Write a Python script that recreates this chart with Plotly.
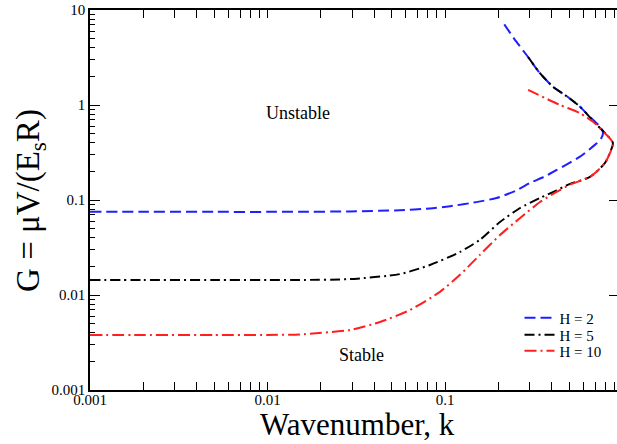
import plotly.graph_objects as go

# Neutral-stability curves G(k) for three layer thicknesses H
k_h2 = [0.001, 0.002, 0.005, 0.01, 0.0152, 0.0292, 0.0557, 0.0823, 0.107, 0.15,
        0.195, 0.25, 0.301, 0.36, 0.426, 0.5, 0.576, 0.65, 0.716, 0.76, 0.777,
        0.76, 0.716, 0.65, 0.576, 0.49, 0.405, 0.34, 0.288, 0.245, 0.211]
g_h2 = [0.075, 0.075, 0.075, 0.075, 0.0752, 0.0758, 0.078, 0.0815, 0.086, 0.095,
        0.105, 0.125, 0.151, 0.175, 0.207, 0.245, 0.286, 0.34, 0.395, 0.45, 0.51,
        0.57, 0.64, 0.76, 0.96, 1.22, 1.56, 2.2, 3.36, 5.0, 7.5]

k_h5 = [0.001, 0.002, 0.005, 0.01, 0.0152, 0.0292, 0.0557, 0.0823, 0.1215, 0.157,
        0.204, 0.265, 0.343, 0.42, 0.506, 0.656, 0.796, 0.883,
        0.82, 0.716, 0.576, 0.49, 0.405, 0.34, 0.294]
g_h5 = [0.0144, 0.0144, 0.0144, 0.0144, 0.0144, 0.0147, 0.0166, 0.0207, 0.0284, 0.038,
        0.0587, 0.0824, 0.105, 0.125, 0.148, 0.175, 0.245, 0.398,
        0.48, 0.62, 0.96, 1.22, 1.56, 2.2, 3.2]

k_h10 = [0.001, 0.002, 0.005, 0.01, 0.0152, 0.0292, 0.043, 0.0635, 0.0937, 0.1215,
         0.157, 0.204, 0.265, 0.343, 0.42, 0.506, 0.656, 0.796, 0.885,
         0.80, 0.716, 0.576, 0.445, 0.294]
g_h10 = [0.0038, 0.0038, 0.0038, 0.0038, 0.00385, 0.00428, 0.0052, 0.00695, 0.0108, 0.0163,
         0.0264, 0.0428, 0.0647, 0.0953, 0.12, 0.145, 0.175, 0.245, 0.396,
         0.5, 0.62, 0.82, 1.0, 1.44]

series_names = ["H = 2", "H = 5", "H = 10"]
series_colors = ["#1f1fff", "#000000", "#ff1f1f"]
series_dash = ["11px,5px", "10px,4px,2px,4px", "12px,4px,2px,4px"]
legend_ids = ["legend", "legend2", "legend3"]
legend_y = [0.1895, 0.1447, 0.1026]

x_ticks = [0.001, 0.01, 0.1]
x_ticktext = ["0.001", "0.01", "0.1"]
y_ticks = [0.001, 0.01, 0.1, 1, 10]
y_ticktext = ["0.001", "0.01", "0.1", "1", "10"]

SERIF = "Liberation Serif"

fig = go.Figure()
for kk, gg, name, col, dash, lg in zip([k_h2, k_h5, k_h10], [g_h2, g_h5, g_h10],
                                       series_names, series_colors, series_dash, legend_ids):
    fig.add_trace(go.Scatter(
        x=kk, y=gg, mode="lines", name=name, legend=lg,
        line=dict(color=col, width=2, dash=dash, shape="spline", smoothing=0.6),
    ))

# invisible trace carrying the mirrored ticks on the right-hand edge
fig.add_trace(go.Scatter(x=[0.001], y=[0.001], yaxis="y2", mode="markers",
                         marker=dict(opacity=0), showlegend=False, hoverinfo="skip"))

legend_style = dict(x=0.815, xanchor="left", yanchor="middle",
                    bgcolor="rgba(0,0,0,0)", font=dict(family=SERIF, size=15),
                    itemwidth=30)

fig.update_layout(
    width=617, height=444,
    margin=dict(l=90, r=0, t=10, b=54),
    paper_bgcolor="white", plot_bgcolor="white",
    font=dict(family=SERIF, color="black", size=15),
    showlegend=True,
    legend=dict(y=legend_y[0], **legend_style),
    legend2=dict(y=legend_y[1], **legend_style),
    legend3=dict(y=legend_y[2], **legend_style),
    xaxis=dict(
        type="log", range=[-3, -0.031],
        tickvals=x_ticks, ticktext=x_ticktext,
        ticks="inside", ticklen=8, tickwidth=1.2, tickcolor="black",
        showline=True, linecolor="black", linewidth=1.5, mirror="allticks",
        showgrid=False, zeroline=False, ticklabelstandoff=-5,
        tickfont=dict(family=SERIF, size=15),
        minor=dict(ticks="inside", ticklen=5, tickwidth=1, tickcolor="black",
                   dtick="D1", showgrid=False),
    ),
    yaxis=dict(
        type="log", range=[-3, 1],
        tickvals=y_ticks, ticktext=y_ticktext,
        ticks="inside", ticklen=10, tickwidth=1.2, tickcolor="black",
        showline=True, linecolor="black", linewidth=1.5,
        showgrid=False, zeroline=False,
        tickfont=dict(family=SERIF, size=15),
        minor=dict(ticks="inside", ticklen=5, tickwidth=1, tickcolor="black",
                   dtick="D1", showgrid=False),
    ),
    yaxis2=dict(
        type="log", range=[-3, 1], overlaying="y", side="right",
        tickvals=y_ticks, showticklabels=False,
        ticks="inside", ticklen=8, tickwidth=1.2, tickcolor="black",
        showline=False, showgrid=False, zeroline=False,
    ),
    annotations=[
        # axis titles
        dict(text="Wavenumber, k", x=0.507, y=-0.092, xref="paper", yref="paper",
             xanchor="center", yanchor="middle", showarrow=False,
             font=dict(family=SERIF, size=31)),
        dict(text="G = μV/(E<sub>s</sub>R)", x=-0.114, y=0.5, xref="paper", yref="paper",
             xanchor="center", yanchor="middle", textangle=-90, showarrow=False,
             font=dict(family=SERIF, size=33)),
        # region labels
        dict(text="Unstable", x=-1.828, y=-0.084, xref="x", yref="y", showarrow=False,
             font=dict(family=SERIF, size=18)),
        dict(text="Stable", x=-1.468, y=-2.63, xref="x", yref="y", showarrow=False,
             font=dict(family=SERIF, size=18)),
    ],
)

fig.write_html("out.html")
